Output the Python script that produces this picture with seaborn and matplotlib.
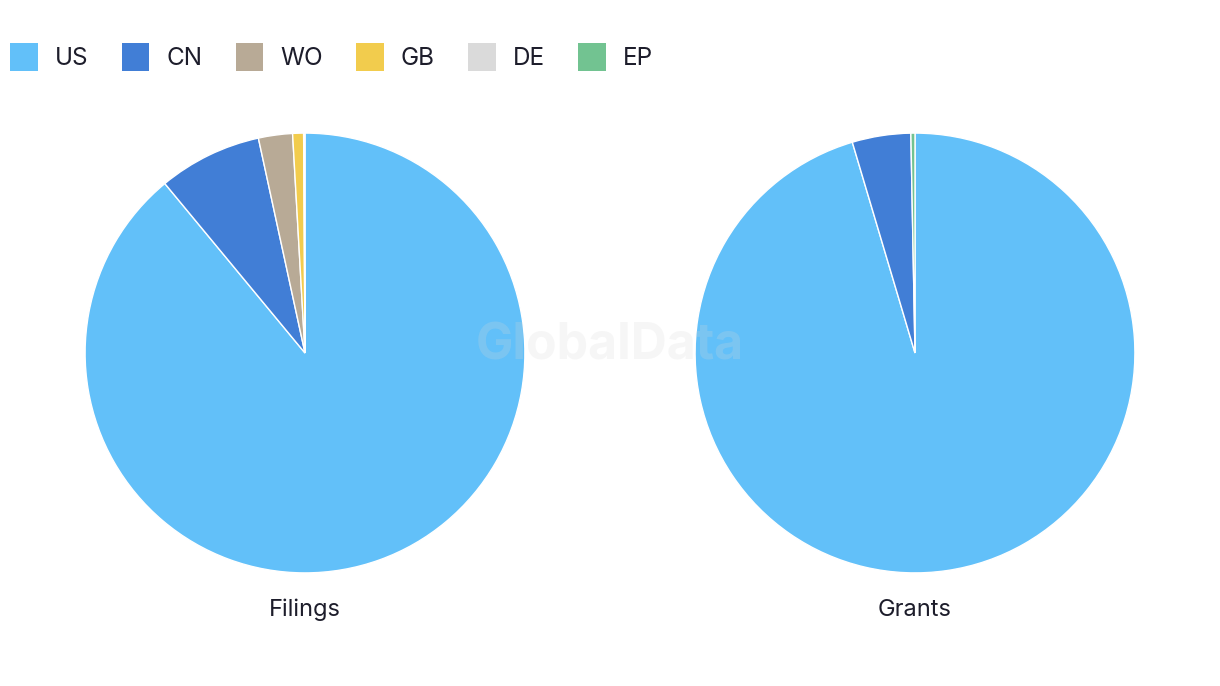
import matplotlib
matplotlib.use("Agg")
import matplotlib.pyplot as plt
from matplotlib.patches import Patch
import seaborn as sns

# Data
countries = ["US", "CN", "WO", "GB", "DE", "EP"]
colors = ["#62C0F9", "#417ED6", "#B8AA96", "#F2CC4D", "#DADADA", "#72C391"]
filings = [89.0, 7.6, 2.5, 0.8, 0.1, 0.0]
grants = [95.4, 4.3, 0.0, 0.0, 0.0, 0.3]
titles = ["Filings", "Grants"]

sns.set_theme(style="white")
plt.rcParams["font.family"] = ["Inter", "DejaVu Sans"]

W, H = 1220, 686
fig = plt.figure(figsize=(W / 100, H / 100), dpi=100)
fig.patch.set_facecolor("white")

text_color = "#1d1d2b"
R = 221
centers = [(305, 353), (915, 353)]

for (cx, cy), vals, title in zip(centers, [filings, grants], titles):
    ax = fig.add_axes([(cx - R) / W, (H - cy - R) / H, 2 * R / W, 2 * R / H])
    pv = [v for v in vals if v > 0]
    pc = [c for v, c in zip(vals, colors) if v > 0]
    ax.pie(pv, colors=pc, startangle=90, counterclock=False, radius=1,
           wedgeprops=dict(edgecolor="white", linewidth=1))
    ax.set_xlim(-1.005, 1.005)
    ax.set_ylim(-1.005, 1.005)
    ax.set_aspect("equal")
    ax.axis("off")
    fig.text(cx / W, 1 - 610 / H, title, ha="center", va="center",
             fontsize=17, color=text_color)

handles = [Patch(facecolor=c, edgecolor="none", label=l) for l, c in zip(countries, colors)]
leg = fig.legend(handles=handles, loc="upper left", bbox_to_anchor=(10 / W, 1 - 43 / H),
                 ncol=6, frameon=False, fontsize=17.5, handlelength=1.15, handleheight=1.4,
                 handletextpad=0.68, columnspacing=1.38, borderaxespad=0, borderpad=0)
for t in leg.get_texts():
    t.set_color(text_color)

fig.text(610 / W, 1 - 346 / H, "GlobalData", ha="center", va="center",
         fontsize=36, fontweight="bold", color="#d8d8d8", alpha=0.22, zorder=10)

fig.savefig("out.png", dpi=100, facecolor="white")
